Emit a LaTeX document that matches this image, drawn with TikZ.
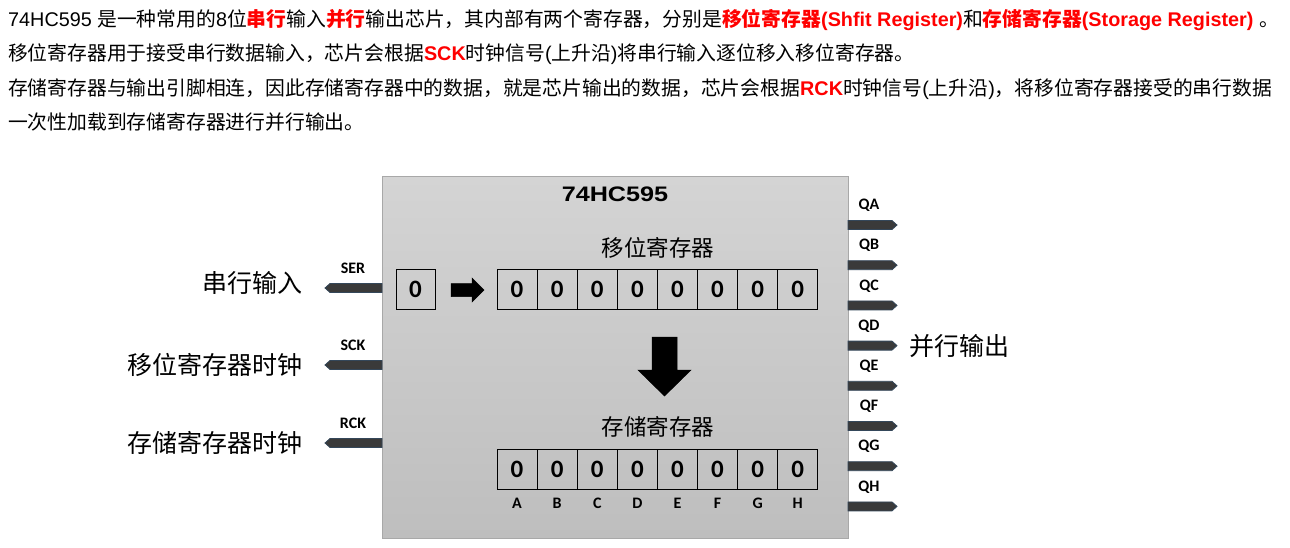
\documentclass[tikz,border=0pt]{standalone}
\usepackage{fontspec}
\setmainfont{Liberation Sans}
\newfontfamily\cjk{Noto Sans CJK SC}
\newfontfamily\calfont{Carlito}
\newcommand\rdb[1]{\textcolor{red}{\bfseries #1}}
\definecolor{pinfill}{HTML}{3A3A3A}
\definecolor{pinedge}{HTML}{34475A}
\definecolor{chiptop}{HTML}{D4D4D4}
\definecolor{chipbot}{HTML}{BEBEBE}
\definecolor{chipedge}{HTML}{A8A8A8}
\tikzset{
  para/.style={anchor=base west,inner sep=0pt,font=\fontsize{19.8}{24}\selectfont},
  biglabel/.style={inner sep=0pt,font=\cjk\fontsize{25}{30}\selectfont},
  reglabel/.style={inner sep=0pt,font=\cjk\fontsize{22.5}{26}\selectfont},
  pinlabel/.style={inner sep=0pt,font=\calfont\bfseries\fontsize{16}{18}\selectfont},
  cell/.style={draw=black,line width=0.9pt,minimum width=40.1pt,minimum height=39.5pt,inner sep=0pt,font=\calfont\bfseries\fontsize{25}{28}\selectfont},
  pinshape/.style={fill=pinfill,draw=pinedge,line width=0.8pt},
  blockarrow/.style={fill=black,draw=black,line width=0.5pt},
  chipbox/.style={draw=chipedge,line width=1pt,top color=chiptop,bottom color=chipbot,minimum width=466pt,minimum height=362pt,inner sep=0pt}
}
\begin{document}
\begin{tikzpicture}[x=1pt,y=-1pt]
\useasboundingbox[fill=white] (0,0) rectangle (1290,547);

% paragraph
\node[para] (l1) at (8,26) {74HC595 {\cjk 是一种常用的}8{\cjk 位}\rdb{\cjk 串行}{\cjk 输入}\rdb{\cjk 并行}{\cjk 输出芯片，其内部有两个寄存器，分别是}\rdb{{\cjk 移位寄存器}(Shfit Register)}{\cjk 和}\rdb{{\cjk 存储寄存器}(Storage Register)} {\cjk 。}};
\node[para] (l2) at (8,60.5) {{\cjk 移位寄存器用于接受串行数据输入，芯片会根据}\rdb{SCK}{\cjk 时钟信号}({\cjk 上升沿}){\cjk 将串行输入逐位移入移位寄存器。}};
\node[para] (l3) at (8,95) {{\cjk 存储寄存器与输出引脚相连，因此存储寄存器中的数据，就是芯片输出的数据，芯片会根据}\rdb{RCK}{\cjk 时钟信号}({\cjk 上升沿}){\cjk ，将移位寄存器接受的串行数据}};
\node[para] (l4) at (8,129.5) {{\cjk 一次性加载到存储寄存器进行并行输出。}};

% chip
\node[chipbox] (chip) at (615,357) {};
\node[inner sep=0pt,font=\bfseries\fontsize{21}{24}\selectfont] (title) at (615,194) {\scalebox{1.2}[1]{74HC595}};

% left pins
\foreach \nm/\yy/\lab in {ser/288/SER,sck/365/SCK,rck/443/RCK}{
  \draw[pinshape] (382,\yy-4.5) -- (330,\yy-4.5) -- (325,\yy) -- (330,\yy+4.5) -- (382,\yy+4.5) -- cycle;
  \node[pinlabel] (pl\nm) at (353,\yy-20) {\lab};
}
% right pins
\foreach \lab [count=\i from 0] in {QA,QB,QC,QD,QE,QF,QG,QH}{
  \pgfmathsetmacro{\yy}{225+40.2*\i}
  \draw[pinshape] (848,\yy-4.5) -- (892,\yy-4.5) -- (897,\yy) -- (892,\yy+4.5) -- (848,\yy+4.5) -- cycle;
  \node[pinlabel] (pr\i) at (869,\yy-19.5) {\lab};
}

% outside labels
\node[biglabel,anchor=east] (tser) at (303,283) {串行输入};
\node[biglabel,anchor=east] (tsck) at (303,365) {移位寄存器时钟};
\node[biglabel,anchor=east] (trck) at (303,443) {存储寄存器时钟};
\node[biglabel,anchor=west] (tout) at (909,346) {并行输出};

% input cell
\node[cell,minimum width=39pt] (in) at (415.5,289.5) {0};
% shift register
\foreach \i in {0,...,7}{
  \node[cell] (s\i) at (517.05+40.1*\i,289.5) {0};
  \node[cell] (t\i) at (517.05+40.1*\i,469.5) {0};
}
\foreach \lab [count=\i from 0] in {A,B,C,D,E,F,G,H}{
  \node[pinlabel] (c\i) at (517.05+40.1*\i,503) {\lab};
}
\node[reglabel] (srl) at (658,248) {移位寄存器};
\node[reglabel] (stl) at (658,427) {存储寄存器};

% right block arrow
\draw[blockarrow] (451,283.5) -- (472,283.5) -- (472,278) -- (484,290) -- (472,302) -- (472,296.5) -- (451,296.5) -- cycle;
% down block arrow
\draw[blockarrow] (652,337) -- (677,337) -- (677,370) -- (691,370) -- (664.5,396) -- (638,370) -- (652,370) -- cycle;
\end{tikzpicture}
\end{document}
